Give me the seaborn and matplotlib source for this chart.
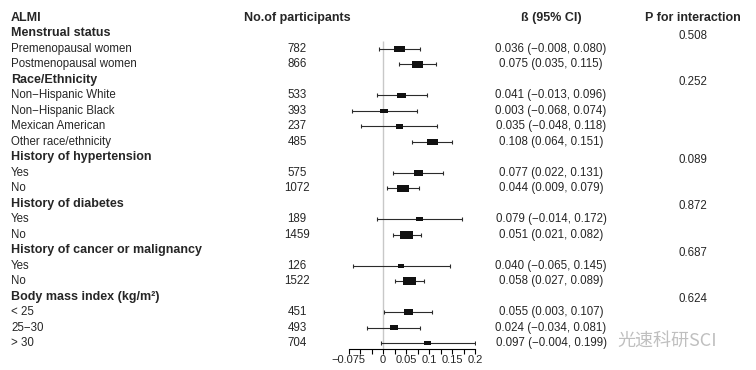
import numpy as np
import pandas as pd
import matplotlib.pyplot as plt
import matplotlib.transforms as mtransforms
import seaborn as sns

# group headers and interaction p values
groups = ["Menstrual status", "Race/Ethnicity", "History of hypertension",
          "History of diabetes", "History of cancer or malignancy",
          "Body mass index (kg/m²)"]
p_inter = ["0.508", "0.252", "0.089", "0.872", "0.687", "0.624"]

# subgroups
sub_labels = ["Premenopausal women", "Postmenopausal women",
              "Non−Hispanic White", "Non−Hispanic Black", "Mexican American",
              "Other race/ethnicity",
              "Yes", "No",
              "Yes", "No",
              "Yes", "No",
              "< 25", "25−30", "> 30"]
sub_group = [0, 0, 1, 1, 1, 1, 2, 2, 3, 3, 4, 4, 5, 5, 5]
n_part = [782, 866, 533, 393, 237, 485, 575, 1072, 189, 1459, 126, 1522, 451, 493, 704]
beta = [0.036, 0.075, 0.041, 0.003, 0.035, 0.108, 0.077, 0.044, 0.079, 0.051,
        0.040, 0.058, 0.055, 0.024, 0.097]
ci_lo = [-0.008, 0.035, -0.013, -0.068, -0.048, 0.064, 0.022, 0.009, -0.014, 0.021,
         -0.065, 0.027, 0.003, -0.034, -0.004]
ci_hi = [0.080, 0.115, 0.096, 0.074, 0.118, 0.151, 0.131, 0.079, 0.172, 0.082,
         0.145, 0.089, 0.107, 0.081, 0.199]

tick_vals = [-0.075, -0.05, -0.025, 0, 0.025, 0.05, 0.075, 0.1, 0.125, 0.15, 0.175, 0.2]
tick_text = ["−0.075", "", "", "0", "", "0.05", "", "0.1", "", "0.15", "", "0.2"]

# assign rows (row 0 = column headers)
rows = []
header_rows = []
r = 1
for g in range(len(groups)):
    header_rows.append(r)
    r += 1
    for i, sg in enumerate(sub_group):
        if sg == g:
            rows.append(r)
            r += 1

df = pd.DataFrame({"label": sub_labels, "n": n_part, "beta": beta,
                   "lo": ci_lo, "hi": ci_hi, "row": rows})
# box size grows with precision of the estimate
df["w_px"] = 2.43 * (1 / (df["hi"] - df["lo"])) ** 0.6
df["area"] = (df["w_px"] * 0.72) ** 2

sns.set_theme(style="white")
plt.rcParams["font.family"] = ["Liberation Sans", "DejaVu Sans"]

W, H = 756, 370
fig = plt.figure(figsize=(W / 100, H / 100), dpi=100)
x0, x1 = 348.5, 475
y_top, y_bot = 0, 349
ax = fig.add_axes([x0 / W, 1 - y_bot / H, (x1 - x0) / W, (y_bot - y_top) / H])

row0_px, row_step = 18, 15.48
ax.set_xlim(-0.075, 0.2)
ax.set_ylim((y_bot - row0_px) / row_step, (y_top - row0_px) / row_step)

ax.vlines(0, 1.5, ax.get_ylim()[0], color="#c8c8c8", lw=1, zorder=1)
ax.errorbar(df["beta"], df["row"], xerr=[df["beta"] - df["lo"], df["hi"] - df["beta"]],
            fmt="none", ecolor="#2b2b2b", elinewidth=0.8, capsize=1.6, capthick=0.8,
            zorder=2)
box = [(-1.65, -1), (1.65, -1), (1.65, 1), (-1.65, 1)]
sns.scatterplot(data=df, x="beta", y="row", size="area",
                sizes=(df["area"].min(), df["area"].max()), marker=box,
                color="#111111", edgecolor="none", legend=False, ax=ax, zorder=3)

for s in ["top", "right", "left"]:
    ax.spines[s].set_visible(False)
ax.spines["bottom"].set_linewidth(0.8)
ax.spines["bottom"].set_color("black")
ax.set_yticks([])
ax.set_xticks(tick_vals)
ax.set_xticklabels(tick_text)
ax.tick_params(axis="x", bottom=True, direction="out", length=3.6, width=0.8,
               color="black", pad=1, labelsize=8)
ax.set_xlabel("")
ax.set_ylabel("")
ax.patch.set_alpha(0)

tr = mtransforms.blended_transform_factory(fig.transFigure, ax.transData)
fs, fsb = 8.3, 9
x_lab, x_n, x_ci, x_p = 11 / W, 297 / W, 551 / W, 693 / W

ax.text(x_lab, 0, "ALMI", transform=tr, ha="left", va="center", fontsize=fsb, fontweight="bold")
ax.text(x_n, 0, "No.of participants", transform=tr, ha="center", va="center", fontsize=fsb, fontweight="bold")
ax.text(x_ci, 0, "ß (95% CI)", transform=tr, ha="center", va="center", fontsize=fsb, fontweight="bold")
ax.text(x_p, 0, "P for interaction", transform=tr, ha="center", va="center", fontsize=fsb, fontweight="bold")

for g, hr in enumerate(header_rows):
    ax.text(x_lab, hr, groups[g], transform=tr, ha="left", va="center", fontsize=fsb, fontweight="bold")
    ax.text(x_p, hr + 0.15, p_inter[g], transform=tr, ha="center", va="center", fontsize=fs)

def fmt(v):
    return f"{v:.3f}".replace("-", "−")

for _, d in df.iterrows():
    ax.text(x_lab, d["row"], d["label"], transform=tr, ha="left", va="center", fontsize=fs)
    ax.text(x_n, d["row"], str(d["n"]), transform=tr, ha="center", va="center", fontsize=fs)
    ax.text(x_ci, d["row"], f"{fmt(d['beta'])} ({fmt(d['lo'])}, {fmt(d['hi'])})",
            transform=tr, ha="center", va="center", fontsize=fs)

# watermark
fig.text(617 / W, 1 - 341 / H, "光速科研SCI", fontsize=13, color="#b4b4b4", alpha=0.85,
         va="center", ha="left", family=["Noto Sans CJK SC", "DejaVu Sans"])

fig.savefig("out.png", dpi=100)
